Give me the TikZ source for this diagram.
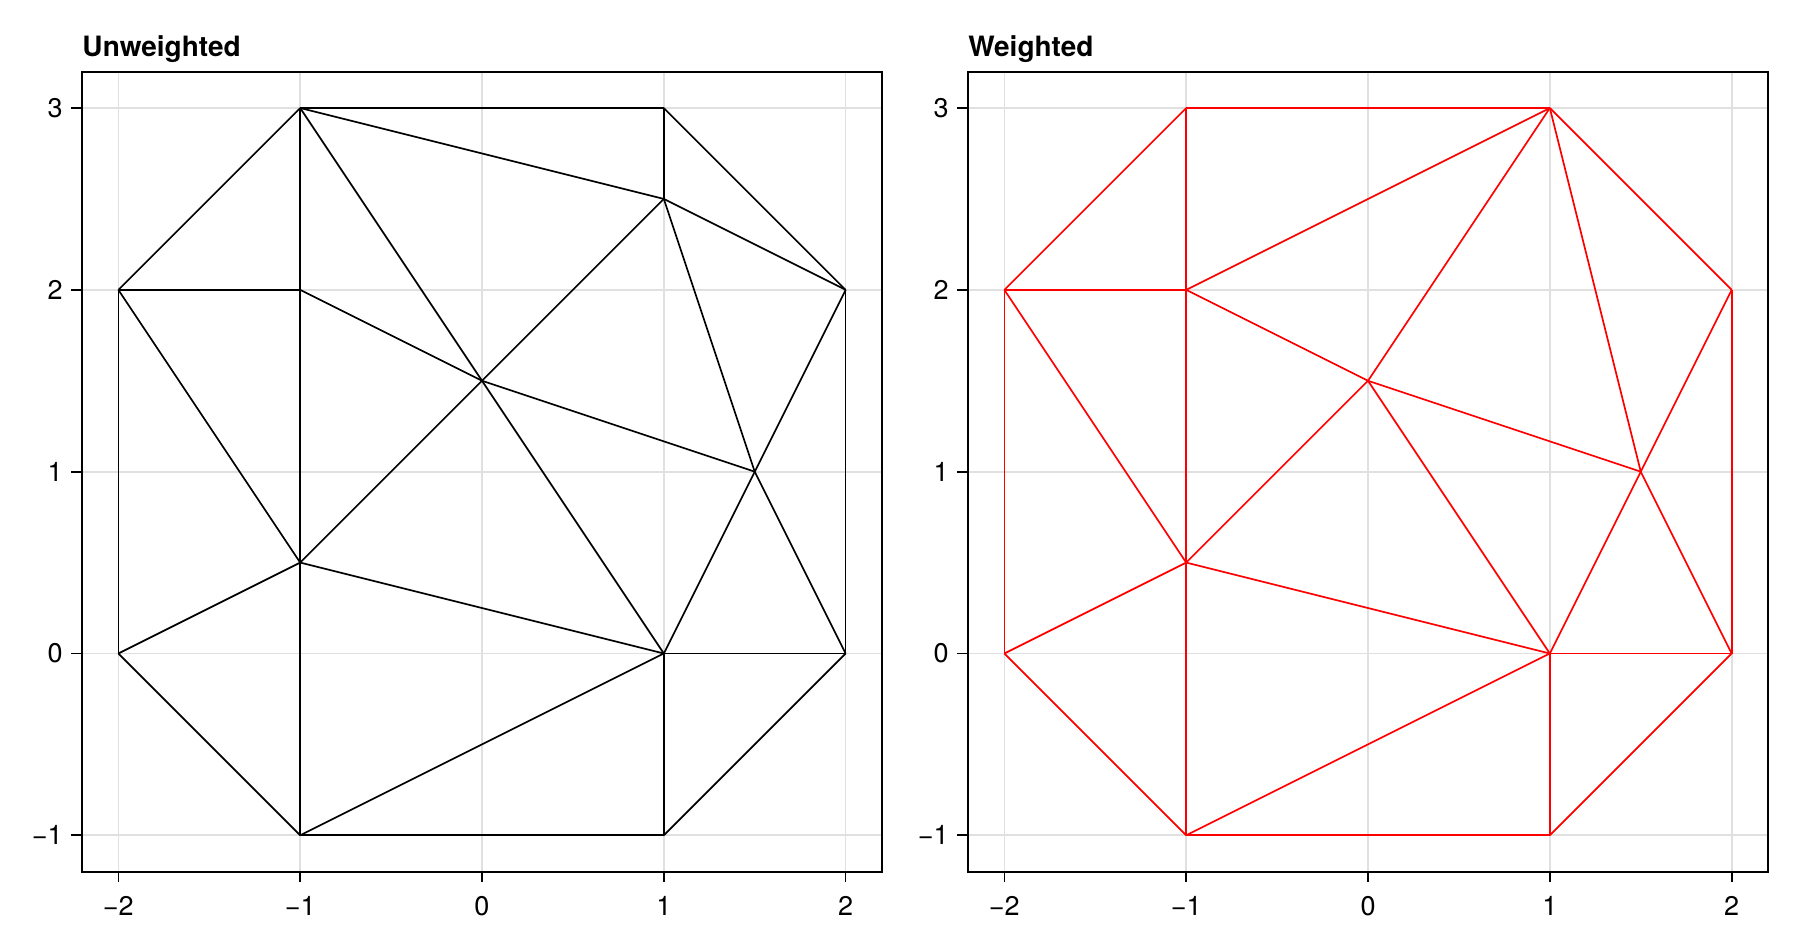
\documentclass[tikz,border=0pt]{standalone}
\usepackage{fontspec}
\setmainfont{TeX Gyre Heros}
\begin{document}
\begin{tikzpicture}[
  gridline/.style={draw=black!12, line width=0.85pt},
  spine/.style={draw=black, line width=0.9pt},
  tickmark/.style={draw=black, line width=0.85pt},
  mesh/.style={line width=0.85pt, line join=round},
  ylab/.style={anchor=east, inner sep=0pt, font=\fontsize{13.5pt}{16pt}\selectfont},
  xlab/.style={anchor=north, inner sep=0pt, font=\fontsize{13.5pt}{16pt}\selectfont},
  ttl/.style={anchor=base west, inner sep=0pt, font=\fontsize{14pt}{17pt}\selectfont\bfseries}
]
\useasboundingbox (0,0) rectangle (900pt,-476pt);

% ---------- Left axes: Unweighted ----------
\node[ttl] (tu) at (41pt,-28.5pt) {Unweighted};
\begin{scope}[shift={(241pt,-326.75pt)}, x=90.91pt, y=90.91pt]
  \foreach \v in {-2,-1,0,1,2} \draw[gridline] (\v,-1.2) -- (\v,3.2);
  \foreach \v in {-1,0,1,2,3} \draw[gridline] (-2.2,\v) -- (2.2,\v);
  \coordinate (u1) at (-1,3);
  \coordinate (u2) at (1,3);
  \coordinate (u3) at (-2,2);
  \coordinate (u4) at (-1,2);
  \coordinate (u5) at (2,2);
  \coordinate (u6) at (1,2.5);
  \coordinate (u7) at (0,1.5);
  \coordinate (u8) at (1.5,1);
  \coordinate (u9) at (-1,0.5);
  \coordinate (u10) at (-2,0);
  \coordinate (u11) at (1,0);
  \coordinate (u12) at (2,0);
  \coordinate (u13) at (-1,-1);
  \coordinate (u14) at (1,-1);
  \foreach \a/\b in {1/2,1/3,1/4,1/6,1/7,2/6,2/5,3/4,3/10,3/9,4/9,4/7,6/5,6/7,6/8,5/8,5/12,7/8,7/9,7/11,8/11,8/12,9/10,9/11,9/13,10/13,11/12,11/13,11/14,12/14,13/14}
    \draw[mesh, black] (u\a) -- (u\b);
  \draw[spine] (-2.2,-1.2) rectangle (2.2,3.2);
  \foreach \v/\t in {-1/−1,0/0,1/1,2/2,3/3} {
    \draw[tickmark] (-2.2,\v) -- ++(-5.35pt,0);
    \node[ylab] (uy\v) at ([xshift=-9.5pt]-2.2,\v) {\t};
  }
  \foreach \v/\t in {-2/−2,-1/−1,0/0,1/1,2/2} {
    \draw[tickmark] (\v,-1.2) -- ++(0,-5.35pt);
    \node[xlab] (ux\v) at ([yshift=-12.35pt]\v,-1.2) {\t};
  }
\end{scope}

% ---------- Right axes: Weighted ----------
\node[ttl] (tw) at (484pt,-28.5pt) {Weighted};
\begin{scope}[shift={(684pt,-326.75pt)}, x=90.91pt, y=90.91pt]
  \foreach \v in {-2,-1,0,1,2} \draw[gridline] (\v,-1.2) -- (\v,3.2);
  \foreach \v in {-1,0,1,2,3} \draw[gridline] (-2.2,\v) -- (2.2,\v);
  \coordinate (w1) at (-1,3);
  \coordinate (w2) at (1,3);
  \coordinate (w3) at (-2,2);
  \coordinate (w4) at (-1,2);
  \coordinate (w5) at (2,2);
  \coordinate (w7) at (0,1.5);
  \coordinate (w8) at (1.5,1);
  \coordinate (w9) at (-1,0.5);
  \coordinate (w10) at (-2,0);
  \coordinate (w11) at (1,0);
  \coordinate (w12) at (2,0);
  \coordinate (w13) at (-1,-1);
  \coordinate (w14) at (1,-1);
  \foreach \a/\b in {1/2,1/3,1/4,2/4,2/7,2/8,2/5,3/4,3/10,3/9,4/9,4/7,5/12,5/8,7/8,7/9,7/11,8/11,8/12,9/10,9/11,9/13,10/13,11/12,11/13,11/14,12/14,13/14}
    \draw[mesh, red] (w\a) -- (w\b);
  \draw[spine] (-2.2,-1.2) rectangle (2.2,3.2);
  \foreach \v/\t in {-1/−1,0/0,1/1,2/2,3/3} {
    \draw[tickmark] (-2.2,\v) -- ++(-5.35pt,0);
    \node[ylab] (wy\v) at ([xshift=-9.5pt]-2.2,\v) {\t};
  }
  \foreach \v/\t in {-2/−2,-1/−1,0/0,1/1,2/2} {
    \draw[tickmark] (\v,-1.2) -- ++(0,-5.35pt);
    \node[xlab] (wx\v) at ([yshift=-12.35pt]\v,-1.2) {\t};
  }
\end{scope}
\end{tikzpicture}
\end{document}
